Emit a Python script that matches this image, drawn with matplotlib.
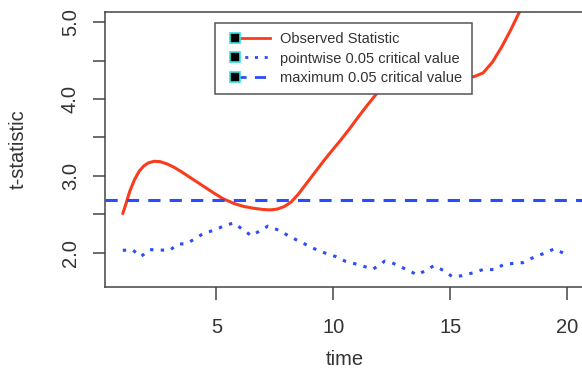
import matplotlib.pyplot as plt
from matplotlib.lines import Line2D
from matplotlib.legend_handler import HandlerLine2D

plt.rcParams['font.family'] = ['Liberation Sans', 'DejaVu Sans']

######
# values
######
obs_time = [1.0, 1.15, 1.3, 1.5, 1.7, 1.9, 2.1, 2.35, 2.6, 2.9, 3.2, 3.5, 3.8,
            4.2, 4.5, 4.9, 5.3, 5.8, 6.2, 6.6, 7.0, 7.3, 7.6, 7.9, 8.2, 8.5,
            8.8, 9.2, 9.6, 10.0, 10.3, 10.7, 11.0, 11.4, 11.85, 12.3, 12.8,
            13.3, 13.8, 14.3, 14.8, 15.3, 15.7, 16.0, 16.4, 16.8, 17.2, 17.6,
            17.95, 18.3, 18.8, 19.3, 20.0]
obs_stat = [2.51, 2.65, 2.80, 2.95, 3.06, 3.13, 3.17, 3.19, 3.185, 3.155,
            3.11, 3.055, 2.995, 2.915, 2.855, 2.775, 2.70, 2.635, 2.60, 2.578,
            2.562, 2.557, 2.567, 2.60, 2.66, 2.76, 2.88, 3.04, 3.20, 3.35,
            3.46, 3.615, 3.74, 3.90, 4.07, 4.21, 4.33, 4.41, 4.44, 4.43, 4.39,
            4.33, 4.30, 4.29, 4.34, 4.48, 4.68, 4.91, 5.13, 5.38, 5.75, 6.10,
            6.60]

pw_time = [1.0, 1.4, 1.78, 2.15, 3.0, 3.35, 3.75, 4.5, 4.9, 5.4, 5.75, 6.5,
           7.2, 7.6, 8.4, 9.2, 9.6, 10.1, 10.5, 11.0, 11.7, 12.2, 12.5, 13.2,
           13.6, 14.3, 14.7, 15.1, 15.5, 16.0, 16.4, 16.9, 17.3, 18.1, 18.5,
           19.0, 19.45, 20.0]
pw_crit = [2.03, 2.04, 1.95, 2.04, 2.03, 2.11, 2.12, 2.26, 2.29, 2.36, 2.385,
           2.22, 2.345, 2.30, 2.17, 2.05, 2.00, 1.95, 1.89, 1.85, 1.785, 1.89,
           1.87, 1.77, 1.71, 1.83, 1.77, 1.685, 1.70, 1.74, 1.78, 1.78, 1.85,
           1.87, 1.93, 1.99, 2.05, 1.97]

max_crit = 2.69

x_ticks = [5, 10, 15, 20]
y_ticks = [2.0, 2.5, 3.0, 3.5, 4.0, 4.5, 5.0]
y_labels = ['2.0', '', '3.0', '', '4.0', '', '5.0']

red = '#fa3c1e'
blue = '#2b4cfa'
grey = '#333333'

######
# legend handler that puts the square marker at the left end of the line
######
class LeftMarker(HandlerLine2D):
    def create_artists(self, legend, orig_handle, xdescent, ydescent,
                       width, height, fontsize, trans):
        shift = 7.5
        arts = super().create_artists(legend, orig_handle, xdescent - shift,
                                      ydescent, width - shift, height,
                                      fontsize, trans)
        arts[0].set_markevery([0])
        return arts

fig = plt.figure(figsize=(5.82, 3.71), dpi=100)
ax = fig.add_axes([105 / 582, 1 - 287 / 371, 480 / 582, 275 / 371])

ax.plot(obs_time, obs_stat, color=red, lw=2.2, solid_capstyle='round')
ax.plot(pw_time, pw_crit, color=blue, lw=2.2, linestyle=(0, (1.1, 2.4)))
ax.axhline(max_crit, color=blue, lw=2.2, linestyle=(0, (4.0, 3.0)))

ax.set_xlim(0.24, 20.76)
ax.set_ylim(1.553, 5.134)
ax.set_xticks(x_ticks)
ax.set_yticks(y_ticks)
ax.set_yticklabels(y_labels, rotation=90, va='center')

for s in ax.spines.values():
    s.set_color('#444444')
    s.set_linewidth(1.1)
ax.tick_params(length=9, width=1.1, color='#444444', labelsize=14.5,
               labelcolor=grey)
ax.tick_params(axis='x', pad=13)
ax.tick_params(axis='y', pad=9)

ax.set_xlabel('time', fontsize=14.5, color=grey, labelpad=10)
ax.set_ylabel('t-statistic', fontsize=14.5, color=grey, labelpad=24)

handles = [
    Line2D([], [], color=red, lw=2, marker='s', ms=7, mfc='black',
           mec='#33e0e0', mew=1.2),
    Line2D([], [], color=blue, lw=2, linestyle=(0, (1.1, 2.4)), marker='s',
           ms=7, mfc='black', mec='#33e0e0', mew=1.2),
    Line2D([], [], color=blue, lw=2, linestyle=(0, (4.0, 3.0)), marker='s',
           ms=7, mfc='black', mec='#33e0e0', mew=1.2),
]
labels = ['Observed Statistic', 'pointwise 0.05 critical value',
          'maximum 0.05 critical value']
leg = fig.legend(handles, labels, loc='upper left',
                 bbox_to_anchor=(215 / 582, 1 - 23 / 371),
                 handler_map={Line2D: LeftMarker(numpoints=1)},
                 fontsize=10.5, frameon=True, fancybox=False,
                 edgecolor='#555555', framealpha=1, borderpad=0.65,
                 labelspacing=0.35, handlelength=3.1, handletextpad=0.7,
                 borderaxespad=0)
leg.get_frame().set_linewidth(1.1)
for t in leg.get_texts():
    t.set_color(grey)

plt.savefig('out.png', dpi=100)
